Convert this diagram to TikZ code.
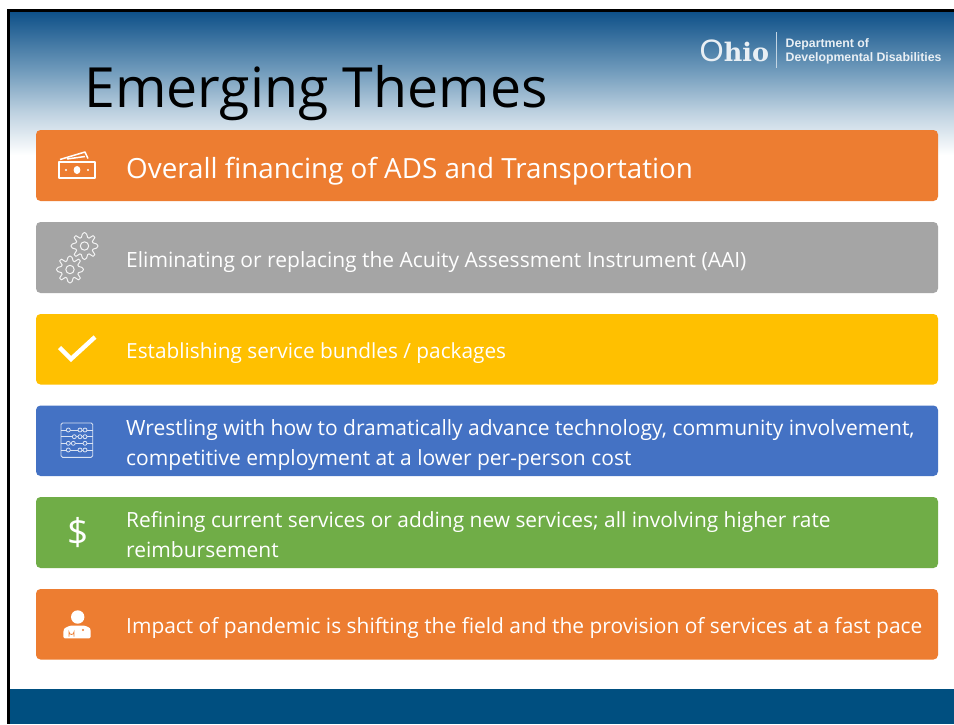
\documentclass[tikz,border=0pt]{standalone}
\usepackage{fontspec}
\setmainfont{Open Sans}
\newfontfamily\titlefont{Open Sans}
\newfontfamily\logoO{Liberation Sans}
\newfontfamily\logofont{DejaVu Serif}
\newfontfamily\depfont{Liberation Sans}
\usetikzlibrary{calc}
\definecolor{barorange}{HTML}{ED7D31}
\definecolor{bargray}{HTML}{A5A5A5}
\definecolor{baryellow}{HTML}{FFC000}
\definecolor{barblue}{HTML}{4472C4}
\definecolor{bargreen}{HTML}{70AD47}
\definecolor{navy}{HTML}{004F80}
\definecolor{topblue}{HTML}{0F5189}
\definecolor{midblue}{HTML}{6F9ABB}
\definecolor{logow}{HTML}{E9EFF4}
\tikzset{
  barbox/.style={rounded corners=4.5pt,draw=none},
  lab/.style={anchor=base west,text=white,inner sep=0pt,font=\fontsize{21}{30}\selectfont,align=left},
  iconline/.style={draw=white,line width=1pt,fill=none,line join=round},
}
\newcommand{\geargl}[1]{%
  \draw[iconline,draw=white!88!bargray,line width=1pt]
    plot[smooth cycle,tension=0.25,samples at={0,10,...,350}] (\x:{#1*(0.82+0.18*max(-1,min(1,2.2*cos(8*\x))))*0.9+0.1*#1}) -- cycle;
}
\begin{document}
\begin{tikzpicture}[x=1pt,y=-1pt]
\useasboundingbox (0,0) rectangle (954,724);
\fill[white] (0,0) rectangle (954,724);
% header gradient
\fill[top color=topblue,bottom color=midblue] (9,12) rectangle (954,70);
\fill[top color=midblue,bottom color=white,middle color=midblue!45!white] (9,70) rectangle (954,155);
% footer band
\fill[navy] (9,689) rectangle (954,724);
% slide border
\fill[black] (7,9) rectangle (954,12);
\fill[black] (7,9) rectangle (9.6,724);
% title
\node[anchor=base west,inner sep=0pt,text=black,font=\titlefont\fontsize{55.4}{60}\selectfont] (title) at (84,107) {Emerging Themes};
% logo
\node[anchor=base west,inner sep=0pt,text=logow] (ohio) at (699.5,61) {{\logoO\fontsize{31}{30}\selectfont O}{\logofont\bfseries\fontsize{25.5}{30}\selectfont hio}};
\coordinate (divtop) at (776,32);
\coordinate (divbot) at (776,68);
\draw[logow!70!midblue,line width=0.6pt] (divtop) -- (divbot);
\node[anchor=west,inner sep=0pt,text=logow,align=left,font=\depfont\bfseries\fontsize{12.3}{14}\selectfont] (dept) at (785.5,51) {Department of\\Developmental Disabilities};
% bars
\fill[barbox,fill=barorange] (36,130) rectangle (938,201);
\fill[barbox,fill=bargray] (36,222) rectangle (938,293);
\fill[barbox,fill=baryellow] (36,314) rectangle (938,384.5);
\fill[barbox,fill=barblue] (36,405.5) rectangle (938,476);
\fill[barbox,fill=bargreen] (36,497) rectangle (938,568);
\fill[barbox,fill=barorange] (36,589) rectangle (938,659.5);
% labels
\node[lab,font=\fontsize{27.8}{30}\selectfont] (t1) at (126,178) {Overall financing of ADS and Transportation};
\node[lab] (t2) at (126,267) {Eliminating or replacing the Acuity Assessment Instrument (AAI)};
\node[lab,font=\fontsize{20.8}{30}\selectfont] (t3) at (126,358) {Establishing service bundles / packages};
\node[lab] (t4a) at (126,435) {Wrestling with how to dramatically advance technology, community involvement,};
\node[lab] (t4b) at (126,465) {competitive employment at a lower per-person cost};
\node[lab,font=\fontsize{20.9}{30}\selectfont] (t5a) at (126,527.5) {Refining current services or adding new services; all involving higher rate};
\node[lab] (t5b) at (126,557) {reimbursement};
\node[lab,font=\fontsize{20.93}{30}\selectfont] (t6) at (126,633) {Impact of pandemic is shifting the field and the provision of services at a fast pace};
% money icon
\draw[iconline,line width=1.5pt] (59,162) rectangle (95,178);
\draw[iconline,line width=1.5pt] (60,159.5) -- (85,152) -- (88,158.5);
\draw[iconline,line width=1.5pt] (67,159) -- (85,156.5);
\fill[white] (77,170) ellipse (3.4 and 4);
\fill[white] (66,170) circle (1.1);
\fill[white] (88,170) circle (1.1);
% gears icon
\begin{scope}[shift={(84.5,246)}]\geargl{13.5}\draw[iconline,draw=white!88!bargray,line width=1pt] (0,0) circle (4.2);\end{scope}
\begin{scope}[shift={(70,269.5)}]\geargl{13.5}\draw[iconline,draw=white!88!bargray,line width=1pt] (0,0) circle (4.2);\end{scope}
% check icon
\draw[white,line width=4.4pt,line join=miter] (59.5,347.5) -- (71,359) -- (95,337);
% abacus icon
\draw[iconline,rounded corners=1.5pt,line width=0.9pt,draw=white!80!barblue] (61,423) rectangle (92.7,457.3);
\foreach \yy/\beads in {430/{68.3,80,85},436.7/{74.3,80,85},443.3/{68.3,73.3,85},450/{68.3,80,85}}{
  \draw[white!80!barblue,line width=0.8pt] (61,\yy) -- (92.7,\yy);
  \foreach \bx in \beads {\draw[white!80!barblue,fill=barblue,line width=0.8pt] (\bx,\yy) circle (2);}
}
% dollar icon
\node[anchor=center,inner sep=0pt,text=white,font=\fontsize{37}{40}\selectfont] (dollar) at (78,533) {\$};
% doctor icon
\fill[white] (77.7,617) circle (6.7);
\fill[white,rounded corners=1.5pt] (63.3,638.3) -- (63.3,630.5) .. controls (65,627.5) and (69,626) .. (72,625.5) -- (83,625.5) .. controls (86,626) and (90,627.5) .. (90.7,630.5) -- (90.7,638.3) -- cycle;
\draw[barorange,line width=0.8pt] (69,636.5) -- (69,632) arc[start angle=180,end angle=360,x radius=2.5,y radius=-2.5] -- (74,636.5);
\fill[barorange] (83,630) circle (1.2);
\end{tikzpicture}
\end{document}
